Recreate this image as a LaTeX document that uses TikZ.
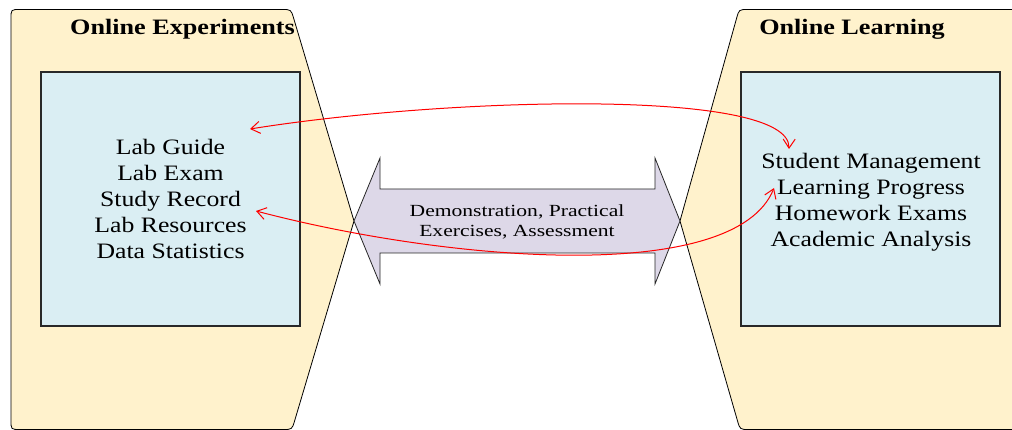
\documentclass[tikz,border=0pt]{standalone}
\usepackage{fontspec}
\setmainfont{Liberation Serif}
\usetikzlibrary{arrows.meta}
\definecolor{panelfill}{RGB}{255,242,204}
\definecolor{boxfill}{RGB}{218,238,243}
\definecolor{arrowfill}{RGB}{221,216,232}
\definecolor{boxline}{RGB}{40,40,40}
\begin{document}
\begin{tikzpicture}[x=1pt,y=-1pt,
  panel/.style={draw=black, line width=0.8pt, fill=panelfill},
  innerbox/.style={draw=boxline, line width=1.3pt, fill=boxfill, inner sep=0pt,
    minimum width=259pt, minimum height=254pt},
  listtext/.style={font=\fontsize{22}{26}\selectfont, inner sep=0pt},
  dblarrow/.style={draw=black!85, line width=0.8pt, fill=arrowfill},
  paneltitle/.style={font=\fontsize{22}{26}\bfseries\selectfont, anchor=base, inner sep=0pt},
  midtext/.style={font=\fontsize{17}{20}\selectfont, inner sep=0pt},
  link/.style={draw=red, line width=1pt,
    {Straight Barb[length=9pt,width=12pt]}-{Straight Barb[length=9pt,width=12pt]}}]
\useasboundingbox (0,0) rectangle (1012,430);
% panels
\path[panel] (11,420.5) -- (11,18.5) .. controls (11,9.5) .. (20,9.5) -- (282,9.5)
  .. controls (291,9.5) .. (293.6,18.1) -- (354,221) -- (294.6,420.9)
  .. controls (292,429.5) .. (283,429.5) -- (20,429.5) .. controls (11,429.5) .. (11,420.5) -- cycle;
\path[panel] (1030,9.5) -- (748,9.5) .. controls (739,9.5) .. (736.6,18.2) -- (680,221)
  -- (737.5,420.9) .. controls (740,429.5) .. (749,429.5) -- (1030,429.5) -- cycle;
\node[paneltitle] (t1) at (182.5,34.3) {\scalebox{1.19}[1]{Online Experiments}};
\node[paneltitle] (t2) at (852,34.3) {\scalebox{1.19}[1]{Online Learning}};
% inner boxes
\node[innerbox] (lbox) at (170.5,199) {};
\node[innerbox] (rbox) at (870.5,199) {};
\node[listtext] (ltext) at (170.5,201.8) {\scalebox{1.17}[1]{\begin{tabular}{@{}c@{}}Lab Guide\\ Lab Exam\\ Study Record\\ Lab Resources\\ Data Statistics\end{tabular}}};
\node[listtext] (rtext) at (871,202.4) {\scalebox{1.17}[1]{\begin{tabular}{@{}c@{}}Student Management\\ Learning Progress\\ Homework Exams\\ Academic Analysis\end{tabular}}};
% double arrow
\path[dblarrow] (354,221) -- (380,158) -- (380,189) -- (655,189) -- (655,158) -- (680,221)
  -- (655,284) -- (655,253) -- (380,253) -- (380,284) -- cycle;
\node[midtext] (mid) at (517,222.5) {\scalebox{1.27}[1]{\begin{tabular}{@{}c@{}}Demonstration, Practical\\ Exercises, Assessment\end{tabular}}};
% red links
\coordinate (r1a) at (250,129);
\coordinate (r1b) at (789,149);
\coordinate (r2a) at (256,211);
\coordinate (r2b) at (774,188);
\draw[link] (r1a) .. controls (450,97) and (790,88) .. (r1b);
\draw[link] (r2a) .. controls (450,262) and (735,285) .. (r2b);
\end{tikzpicture}
\end{document}
